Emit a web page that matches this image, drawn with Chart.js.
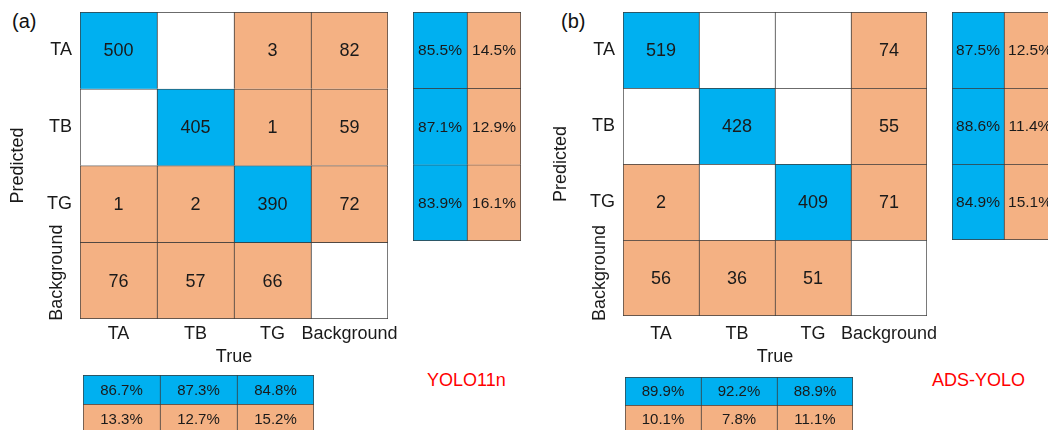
<!DOCTYPE html>
<html>
<head>
<meta charset="utf-8">
<script src="https://cdn.jsdelivr.net/npm/chart.js@4/dist/chart.umd.min.js"></script>
<style>
  html, body { margin: 0; padding: 0; background: #fff; }
  body { position: relative; width: 1048px; height: 430px; overflow: hidden;
         font-family: "Liberation Sans", Arial, sans-serif; }
  canvas { position: absolute; }
  .tag { position: absolute; font-size: 20px; line-height: 20px; color: #111; }
  .model { position: absolute; font-size: 18px; line-height: 18px; color: #f00; }
</style>
</head>
<body>
<div class="tag" style="left:12px;top:11px">(a)</div>
<div class="tag" style="left:561px;top:11px">(b)</div>
<div class="model" style="left:427px;top:371px">YOLO11n</div>
<div class="model" style="left:932px;top:371px">ADS-YOLO</div>

<canvas id="matA" width="400" height="370" style="left:0;top:0"></canvas>
<canvas id="sideA" width="108" height="229" style="left:413px;top:12px"></canvas>
<canvas id="botA" width="231" height="58" style="left:83px;top:375px"></canvas>

<canvas id="matB" width="396" height="370" style="left:543px;top:0"></canvas>
<canvas id="sideB" width="104" height="228" style="left:952px;top:12px"></canvas>
<canvas id="botB" width="228" height="56" style="left:625px;top:377px"></canvas>

<script>
(function () {
  "use strict";

  // data
  const classes = ["TA", "TB", "TG", "Background"];

  // rows = predicted, columns = true; null = empty cell
  const countsA = [
    [500, null, 3, 82],
    [null, 405, 1, 59],
    [1, 2, 390, 72],
    [76, 57, 66, null],
  ];
  const countsB = [
    [519, null, null, 74],
    [null, 428, null, 55],
    [2, null, 409, 71],
    [56, 36, 51, null],
  ];

  // per predicted row: correct / wrong (%)
  const rowHitA = [85.5, 87.1, 83.9];
  const rowMissA = [14.5, 12.9, 16.1];
  const rowHitB = [87.5, 88.6, 84.9];
  const rowMissB = [12.5, 11.4, 15.1];

  // per true column: correct / wrong (%)
  const colHitA = [86.7, 87.3, 84.8];
  const colMissA = [13.3, 12.7, 15.2];
  const colHitB = [89.9, 92.2, 88.9];
  const colMissB = [10.1, 7.8, 11.1];

  const BLUE = "#00b0f0";
  const ORANGE = "#f4b183";
  const EDGE = "#3a3a3a";
  const INK = "#1a1a1a";
  const FONT = "'Liberation Sans', Arial, sans-serif";

  // helpers
  const pct = v => v.toFixed(1) + "%";

  // writes the text of each cell in its middle
  const cellText = {
    id: "cellText",
    afterDatasetsDraw(chart, args, opts) {
      const ctx = chart.ctx;
      ctx.save();
      ctx.font = opts.size + "px " + FONT;
      ctx.fillStyle = INK;
      ctx.textAlign = "center";
      ctx.textBaseline = "middle";
      chart.data.datasets.forEach((ds, i) => {
        chart.getDatasetMeta(i).data.forEach((bar, j) => {
          const t = ds.texts[j];
          if (t == null || t === "") return;
          const p = bar.getCenterPoint();
          ctx.fillText(t, p.x, p.y + 1);
        });
      });
      // rotated "Background" row label on the y axis
      if (opts.rotLabel) {
        const y = chart.scales.y;
        const cy = y.getPixelForValue(classes.length - 0.5) + opts.rotLabel.dy;
        ctx.font = "18px " + FONT;
        ctx.translate(chart.chartArea.left - 22.5, cy);
        ctx.rotate(-Math.PI / 2);
        ctx.fillText(classes[classes.length - 1], 0, 0);
      }
      ctx.restore();
    },
  };

  // one dataset per row; each cell is a floating bar [r, r+1]
  function gridDatasets(texts, colors) {
    const nRows = texts.length;
    return texts.map((row, r) => {
      const nCols = row.length;
      return {
        label: "row " + r,
        data: row.map(() => [r, r + 1]),
        texts: row,
        backgroundColor: colors[r],
        borderColor: EDGE,
        borderWidth: c => ({
          left: 1,
          top: 1,
          right: c.dataIndex === nCols - 1 ? 1 : 0,
          bottom: r === nRows - 1 ? 1 : 0,
        }),
        borderSkipped: false,
        grouped: false,
        barPercentage: 1,
        categoryPercentage: 1,
      };
    });
  }

  function plainGrid(id, cols, texts, colors, size) {
    new Chart(document.getElementById(id), {
      type: "bar",
      data: { labels: cols, datasets: gridDatasets(texts, colors) },
      options: {
        responsive: false,
        animation: false,
        events: [],
        layout: { padding: 0 },
        plugins: { legend: { display: false }, tooltip: { enabled: false }, cellText: { size } },
        scales: {
          x: { display: false, offset: true },
          y: { display: false, min: 0, max: texts.length, reverse: true },
        },
      },
      plugins: [cellText],
    });
  }

  function matrix(id, counts, xHeight, tickPad, rotDy) {
    const texts = counts.map(row => row.map(v => (v == null ? "" : String(v))));
    const colors = counts.map((row, r) =>
      row.map((v, c) => (v == null ? "#ffffff" : r === c ? BLUE : ORANGE)));
    const axisFont = { family: FONT, size: 18 };
    new Chart(document.getElementById(id), {
      type: "bar",
      data: { labels: classes, datasets: gridDatasets(texts, colors) },
      options: {
        responsive: false,
        animation: false,
        events: [],
        layout: { padding: { top: 12, right: 12, left: 0, bottom: 0 } },
        plugins: {
          legend: { display: false },
          tooltip: { enabled: false },
          cellText: { size: 18, rotLabel: { dy: rotDy } },
        },
        scales: {
          x: {
            type: "category",
            offset: true,
            grid: { display: false, drawTicks: false },
            border: { display: false },
            ticks: { color: INK, font: axisFont, padding: tickPad, maxRotation: 0, autoSkip: false },
            title: { display: true, text: "True", color: INK, font: axisFont, padding: { top: 0, bottom: 2 } },
            afterFit: s => { s.height = xHeight; s.paddingLeft = 0; s.paddingRight = 0; },
          },
          y: {
            type: "linear",
            min: 0,
            max: classes.length,
            reverse: true,
            grid: { display: false, drawTicks: false },
            border: { display: false },
            afterBuildTicks: s => { s.ticks = classes.map((c, i) => ({ value: i + 0.5 })); },
            ticks: {
              color: INK,
              font: axisFont,
              padding: 8,
              callback: (v, i) => (classes[i] === "Background" ? "" : classes[i]),
            },
            title: { display: true, text: "Predicted", color: INK, font: axisFont, padding: { top: 7, bottom: 0 } },
            afterFit: s => { s.width = 80; s.paddingTop = 0; s.paddingBottom = 0; },
          },
        },
      },
      plugins: [cellText],
    });
  }

  function side(id, hit, miss) {
    const texts = hit.map((h, i) => [pct(h), pct(miss[i])]);
    const colors = hit.map(() => [BLUE, ORANGE]);
    plainGrid(id, ["correct", "wrong"], texts, colors, 15.5);
  }

  function bottom(id, hit, miss) {
    const texts = [hit.map(pct), miss.map(pct)];
    const colors = [hit.map(() => BLUE), miss.map(() => ORANGE)];
    plainGrid(id, classes.slice(0, 3), texts, colors, 15);
  }

  matrix("matA", countsA, 51, 4, -8);
  side("sideA", rowHitA, rowMissA);
  bottom("botA", colHitA, colMissA);

  matrix("matB", countsB, 54, 7, -5);
  side("sideB", rowHitB, rowMissB);
  bottom("botB", colHitB, colMissB);
})();
</script>
</body>
</html>
